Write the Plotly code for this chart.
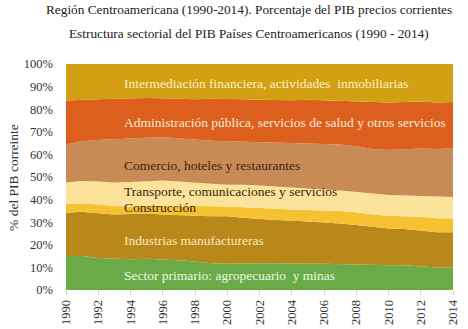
import plotly.graph_objects as go

years = list(range(1990, 2015))

primario = [15.0, 15.0, 14.2, 13.8, 13.6, 13.8, 13.6, 13.2, 12.6, 11.8, 11.6, 11.8, 11.8,
            11.8, 11.6, 11.6, 11.6, 11.4, 11.2, 11.2, 11.0, 11.0, 10.6, 10.0, 10.0]
industrias = [19.2, 19.6, 19.8, 19.6, 20.0, 20.0, 19.8, 19.8, 20.2, 20.8, 21.0, 20.2, 19.6,
              19.2, 19.2, 18.8, 18.4, 18.0, 17.6, 16.8, 16.2, 16.0, 15.8, 15.6, 15.6]
construccion = [3.8, 3.8, 3.8, 3.8, 3.4, 3.6, 3.8, 4.0, 4.4, 4.6, 4.4, 4.6, 5.0,
                5.0, 4.8, 5.0, 5.4, 5.6, 5.6, 5.4, 5.6, 5.6, 6.0, 6.2, 6.0]
transporte = [9.6, 9.8, 10.2, 10.4, 10.8, 10.8, 11.2, 11.0, 10.2, 9.8, 9.6, 10.0, 9.8,
              9.8, 9.6, 9.4, 9.2, 9.0, 9.0, 9.2, 9.2, 9.2, 9.2, 9.6, 9.6]
comercio = [16.8, 17.6, 18.4, 19.2, 19.2, 19.2, 19.2, 19.2, 19.2, 19.0, 19.2, 19.2, 19.4,
            19.4, 19.8, 20.0, 20.0, 20.4, 20.2, 19.8, 20.0, 20.6, 21.0, 21.0, 21.4]
administracion = [19.4, 18.4, 18.0, 17.8, 17.8, 17.6, 17.2, 17.4, 17.8, 18.6, 18.8, 18.6, 18.6,
                  18.8, 19.0, 19.4, 19.4, 19.4, 20.0, 20.8, 21.0, 20.8, 20.8, 20.6, 20.6]
intermediacion = [16.2, 15.8, 15.6, 15.4, 15.2, 15.0, 15.2, 15.4, 15.6, 15.4, 15.4, 15.6, 15.8,
                  16.0, 16.0, 15.8, 16.0, 16.2, 16.4, 16.8, 17.0, 16.8, 16.6, 17.0, 16.8]

sector_names = [
    "Sector primario: agropecuario  y minas",
    "Industrias manufactureras",
    "Construcción",
    "Transporte, comunicaciones y servicios",
    "Comercio, hoteles y restaurantes",
    "Administración pública, servicios de salud y otros servicios",
    "Intermediación financiera, actividades  inmobiliarias",
]
series = [primario, industrias, construccion, transporte, comercio, administracion, intermediacion]
colors = ["#6aab48", "#b8891a", "#f6c232", "#fce39c", "#c98b55", "#dc5f1e", "#d2a012"]
text_colors = ["#eef6e0", "#f9e9b8", "#3a2616", "#3a2616", "#3a2616", "#fbeed8", "#fbf0c8"]
label_y = [6.6, 22.1, 36.3, 43.4, 55.3, 74.3, 91.2]

title1 = "Región Centroamericana (1990-2014). Porcentaje del PIB precios corrientes"
title2 = "Estructura sectorial del PIB Países Centroamericanos (1990 - 2014)"
y_title = "% del PIB correinte"

FONT = "Liberation Serif"

fig = go.Figure()
for name, vals, col in zip(sector_names, series, colors):
    fig.add_trace(go.Scatter(
        x=years, y=vals, name=name, mode="lines", stackgroup="one",
        line=dict(width=0, color=col), fillcolor=col, hoverinfo="x+y+name",
    ))

for name, yv, tc in zip(sector_names, label_y, text_colors):
    fig.add_annotation(x=1993.45, y=yv, xref="x", yref="y", text=name, showarrow=False,
                       xanchor="left", yanchor="middle",
                       font=dict(family=FONT, size=13.5, color=tc))

fig.add_annotation(x=0.473, y=1.239, xref="paper", yref="paper", text=title1, showarrow=False,
                   xanchor="center", yanchor="middle", font=dict(family=FONT, size=13.3, color="#222"))
fig.add_annotation(x=0.473, y=1.137, xref="paper", yref="paper", text=title2, showarrow=False,
                   xanchor="center", yanchor="middle", font=dict(family=FONT, size=13.3, color="#222"))

fig.add_annotation(x=-0.137, y=0.5, xref="paper", yref="paper", text=y_title, showarrow=False,
                   textangle=-90, xanchor="center", yanchor="middle",
                   font=dict(family=FONT, size=13.5, color="#333"))

fig.update_layout(
    width=468, height=329,
    margin=dict(l=66, r=15, t=64, b=39, autoexpand=False),
    paper_bgcolor="white", plot_bgcolor="white",
    showlegend=False,
    font=dict(family=FONT, size=12, color="#333"),
)
fig.update_xaxes(range=[1990, 2014], tickmode="array", tickvals=list(range(1990, 2015, 2)),
                 tickangle=-90, showgrid=False, zeroline=False, ticks="outside", ticklen=4,
                 tickcolor="#cccccc", automargin=False,
                 tickfont=dict(family=FONT, size=12.5, color="#333"))
fig.update_yaxes(range=[0, 100], dtick=10, ticksuffix="%", showgrid=False, zeroline=False,
                 automargin=False, ticklabelstandoff=12,
                 tickfont=dict(family=FONT, size=12.5, color="#333"))

fig.write_html("out.html", config={"displayModeBar": False},
               post_script="document.body.style.margin='0';")
